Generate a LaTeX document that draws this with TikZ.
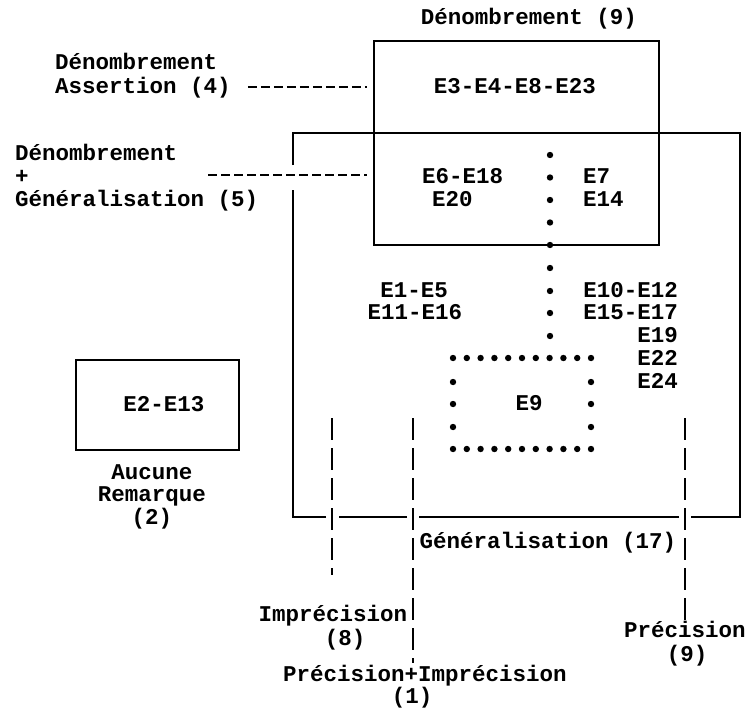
\documentclass[tikz,border=0pt]{standalone}
\usepackage{fontspec}
\setmonofont{Liberation Mono}
\tikzset{
  lbl/.style={font=\ttfamily\bfseries\fontsize{22.5}{22.5}\selectfont, inner sep=0pt, text height=13pt, text depth=0pt, anchor=center},
  lblw/.style={lbl, anchor=west},
  lble/.style={lbl, anchor=east},
  boxline/.style={line width=1.4pt},
  hdash/.style={line width=1.3pt, dash pattern=on 9pt off 4pt},
  vdash/.style={line width=1.3pt, dash pattern=on 22pt off 8pt},
  dotfill/.style={fill=black},
}
\begin{document}
\begin{tikzpicture}[x=1pt, y=-1pt]
\useasboundingbox (0,0) rectangle (749,709);

% Denombrement box
\node[draw, boxline, minimum width=285pt, minimum height=204pt, inner sep=0pt] (denbox) at (516.5,143) {};
\node[lbl] (d9) at (529,18) {Dénombrement (9)};
\node[lbl] (e3) at (515,87) {E3-E4-E8-E23};

% Generalisation box (frame with gaps)
\coordinate (gtl) at (293,133);
\coordinate (gtr) at (740,133);
\coordinate (gbr) at (740,517);
\coordinate (gbl) at (293,517);
\draw[boxline] (293,165) -- (gtl) -- (gtr) -- (gbr) -- (691,517);
\draw[boxline] (679,517) -- (419,517);
\draw[boxline] (407,517) -- (339,517);
\draw[boxline] (326,517) -- (gbl) -- (293,190);
\node[lbl] (g17) at (548,542) {Généralisation (17)};

% Left labels
\node[lblw] (a4a) at (55,63) {Dénombrement};
\node[lblw] (a4b) at (55,87) {Assertion (4)};
\draw[hdash] ([xshift=17pt]a4b.east) -- ([xshift=-6pt]denbox.west |- a4b);

\node[lblw] (g5a) at (15,154) {Dénombrement};
\node[lblw] (g5b) at (15,177) {+};
\node[lblw] (g5c) at (15,200) {Généralisation (5)};
\coordinate (c2s) at (208,175);
\draw[hdash] (c2s) -- ([xshift=-6pt]c2s -| denbox.west);

% inner texts
\node[lblw] (e6) at (422,177) {E6-E18};
\node[lblw] (e20) at (432,200) {E20};
\node[lblw] (e7) at (583,177) {E7};
\node[lblw] (e14) at (583,200) {E14};
\node[lbl] (e1) at (414,291) {E1-E5};
\node[lbl] (e11) at (415,313) {E11-E16};
\node[lble] (e10) at (678,291) {E10-E12};
\node[lble] (e15) at (678,313) {E15-E17};
\node[lble] (e19) at (678,336) {E19};
\node[lble] (e22) at (678,359) {E22};
\node[lble] (e24) at (678,382) {E24};
\node[lbl] (e9) at (529,404) {E9};

% dotted column and dotted rectangle
\foreach \yy in {155,177.5,200,222.5,245,268,291,313,336}
  \fill[dotfill] (550,\yy) circle (3.2pt);
\foreach \k in {0,...,10} {
  \fill[dotfill] (453+13.8*\k,358) circle (3.2pt);
  \fill[dotfill] (453+13.8*\k,449) circle (3.2pt);
}
\foreach \yy in {382,404,427} {
  \fill[dotfill] (453,\yy) circle (3.2pt);
  \fill[dotfill] (591,\yy) circle (3.2pt);
}

% Aucune remarque box
\node[draw, boxline, minimum width=163pt, minimum height=90pt, inner sep=0pt] (e2box) at (157.5,405) {};
\node[lbl] (e2) at (164,405) {E2-E13};
\node[lbl] (ar1) at (152,473) {Aucune};
\node[lbl] (ar2) at (152,495) {Remarque};
\node[lbl] (ar3) at (152,518) {(2)};

% vertical dashed connectors
\node[lbl] (imp) at (333,615) {Imprécision};
\node[lbl] (imp8) at (345,639) {(8)};
\coordinate (l1top) at (332,418);
\draw[vdash] (l1top) -- ([yshift=33pt]l1top |- imp.north);

\node[lbl] (pi) at (425,675) {Précision+Imprécision};
\node[lbl] (pi1) at (412,697) {(1)};
\coordinate (l2top) at (413,418);
\draw[vdash] (l2top) -- ([yshift=5.5pt]l2top |- pi.north);

\node[lbl] (pr) at (685,631) {Précision};
\node[lbl] (pr9) at (687,655) {(9)};
\coordinate (l3top) at (685,418);
\draw[vdash] (l3top) -- ([yshift=4.5pt]l3top |- pr.north);
\end{tikzpicture}
\end{document}
